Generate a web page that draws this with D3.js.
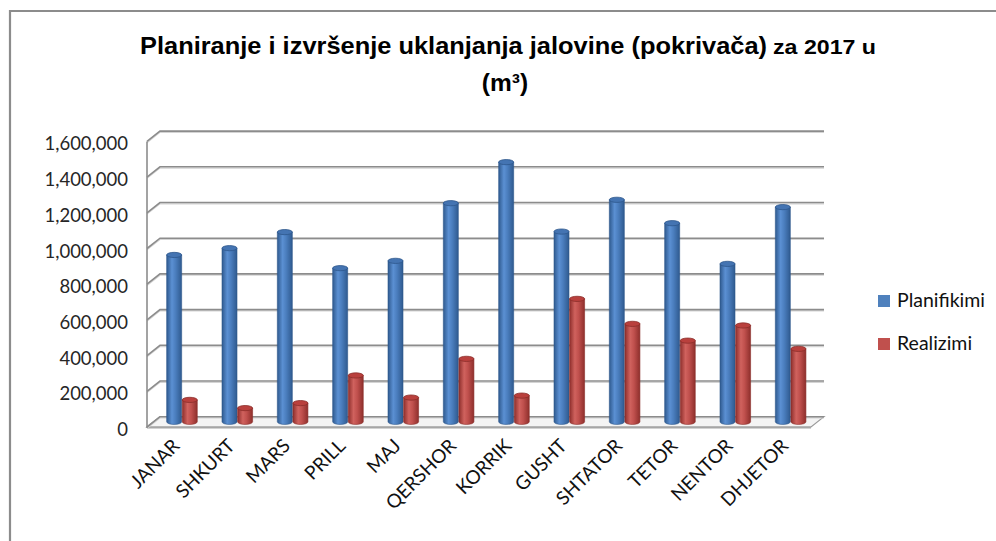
<!DOCTYPE html>
<html>
<head>
<meta charset="utf-8">
<script src="https://cdn.jsdelivr.net/npm/d3@7/dist/d3.min.js"></script>
<style>
  html, body { margin: 0; padding: 0; background: #fff; }
  svg { display: block; }
</style>
</head>
<body>
<svg id="chart" width="996" height="541"></svg>
<script>
const categories = ["JANAR","SHKURT","MARS","PRILL","MAJ","QERSHOR","KORRIK","GUSHT","SHTATOR","TETOR","NENTOR","DHJETOR"];
const planifikimi = [935000, 973000, 1063000, 861000, 902000, 1225000, 1455000, 1066000, 1244000, 1113000, 885000, 1203000];
const realizimi   = [123000, 77000, 105000, 260000, 136000, 353000, 147000, 689000, 549000, 455000, 540000, 409000];
const yTicks = [0, 200000, 400000, 600000, 800000, 1000000, 1200000, 1400000, 1600000];
const seriesNames = ["Planifikimi", "Realizimi"];
const seriesColors = ["#4f81bd", "#c0504d"];

const svg = d3.select("#chart");
const fmt = d3.format(",");

// depth offsets (3D look)
const DX = 13, DY = -10.3;

const y = d3.scaleLinear().domain([0, 1600000]).range([427, 141.4]);
const x = d3.scaleBand().domain(categories).range([147, 811]);

// chart outer border (top and left)
svg.append("line").attr("x1", 10).attr("x2", 996).attr("y1", 11).attr("y2", 11)
  .attr("stroke", "#8c8c8c").attr("stroke-width", 2.2);
svg.append("line").attr("x1", 10).attr("x2", 10).attr("y1", 10).attr("y2", 541)
  .attr("stroke", "#8c8c8c").attr("stroke-width", 2.2);

// defs: gradients for cylinders
const defs = svg.append("defs");
function cylGrad(id, dark, mid, light) {
  const g = defs.append("linearGradient").attr("id", id).attr("x1", "0%").attr("x2", "100%");
  g.append("stop").attr("offset", "0%").attr("stop-color", dark);
  g.append("stop").attr("offset", "35%").attr("stop-color", light);
  g.append("stop").attr("offset", "60%").attr("stop-color", mid);
  g.append("stop").attr("offset", "100%").attr("stop-color", dark);
}
cylGrad("gBlue", "#2f5a8f", "#4a7dbd", "#5b90d3");
cylGrad("gRed", "#8e2f2c", "#c0504d", "#d0625e");

// floor
const x0 = x.range()[0], x1 = x.range()[1];
const floor = svg.append("g");
floor.append("path")
  .attr("d", `M${x0},${y(0)} L${x1},${y(0)} L${x1 + DX},${y(0) + DY} L${x0 + DX},${y(0) + DY} Z`)
  .attr("fill", "#f4f4f4").attr("stroke", "#9a9a9a").attr("stroke-width", 1.2);
floor.append("line").attr("x1", x0).attr("x2", x1).attr("y1", y(0) + 0.5).attr("y2", y(0) + 0.5)
  .attr("stroke", "#a6a6a6").attr("stroke-width", 2);

// gridlines: back wall + left wall diagonals
const grid = svg.append("g");
yTicks.forEach(t => {
  const yf = y(t), yb = y(t) + DY;
  grid.append("path")
    .attr("d", `M${x0},${yf} L${x0 + DX},${yb} L${x1 + DX},${yb}`)
    .attr("fill", "none").attr("stroke", "#d4d4d4").attr("stroke-width", 1.2)
    .attr("transform", "translate(0,1.3)");
  grid.append("path")
    .attr("d", `M${x0},${yf} L${x0 + DX},${yb} L${x1 + DX},${yb}`)
    .attr("fill", "none").attr("stroke", "#8c8c8c").attr("stroke-width", 1.6);
});
// left wall front vertical edge
grid.append("line").attr("x1", x0).attr("x2", x0).attr("y1", y(1600000)).attr("y2", y(0) + 1)
  .attr("stroke", "#8c8c8c").attr("stroke-width", 1.6);

// y labels
svg.append("g").selectAll("text").data(yTicks).join("text")
  .attr("x", 128).attr("y", d => y(d) + 9)
  .attr("text-anchor", "end")
  .attr("font-family", "Lato, 'Open Sans', sans-serif")
  .attr("font-size", 18.5).attr("fill", "#262626")
  .text(d => fmt(d));

// cylinders
const BW = 15, RY = 2.6;
const bars = svg.append("g");
function cylinder(cx, value, grad, topFill, edge) {
  const yb = y(0) + DY / 2, yt = y(value) + DY / 2;
  const g = bars.append("g");
  g.append("path")
    .attr("d", `M${cx - BW / 2},${yt} L${cx - BW / 2},${yb} A${BW / 2},${RY} 0 0 0 ${cx + BW / 2},${yb} L${cx + BW / 2},${yt} Z`)
    .attr("fill", `url(#${grad})`).attr("stroke", edge).attr("stroke-width", 0.6);
  g.append("ellipse").attr("cx", cx).attr("cy", yt).attr("rx", BW / 2).attr("ry", RY)
    .attr("fill", topFill).attr("stroke", edge).attr("stroke-width", 0.8);
}
categories.forEach((c, i) => {
  const cm = x(c) + x.bandwidth() / 2 + DX / 2;
  cylinder(cm - 7, planifikimi[i], "gBlue", "#4474b2", "#2d578c");
  cylinder(cm + 8.6, realizimi[i], "gRed", "#b9403d", "#8a2d2a");
});

// x labels
svg.append("g").selectAll("text").data(categories).join("text")
  .attr("transform", d => `translate(${x(d) + x.bandwidth() / 2 + 6},${447}) rotate(-45)`)
  .attr("text-anchor", "end")
  .attr("font-family", "Lato, 'Open Sans', sans-serif")
  .attr("font-size", 19).attr("fill", "#111")
  .text(d => d);

// legend
const leg = svg.append("g");
seriesNames.forEach((n, i) => {
  const ly = 295 + i * 43;
  leg.append("rect").attr("x", 878).attr("y", ly).attr("width", 12).attr("height", 12)
    .attr("fill", seriesColors[i]);
  leg.append("text").attr("x", 897).attr("y", ly + 12)
    .attr("font-family", "Lato, 'Open Sans', sans-serif")
    .attr("font-size", 19.5).attr("fill", "#111").text(n);
});

// title
const tFont = "'Liberation Sans Narrow', 'Arial Narrow', sans-serif";
svg.append("text")
  .attr("x", 140).attr("y", 54)
  .attr("font-family", tFont).attr("font-weight", "bold").attr("font-size", 24.5).attr("fill", "#000")
  .attr("textLength", 627).attr("lengthAdjust", "spacingAndGlyphs")
  .text("Planiranje i izvršenje uklanjanja jalovine (pokrivača)");
svg.append("text")
  .attr("x", 773).attr("y", 54)
  .attr("font-family", tFont).attr("font-weight", "bold").attr("font-size", 20).attr("fill", "#000")
  .attr("textLength", 103).attr("lengthAdjust", "spacingAndGlyphs")
  .text("za 2017 u");
svg.append("text").attr("x", 505).attr("y", 91).attr("text-anchor", "middle")
  .attr("font-family", tFont).attr("font-weight", "bold").attr("font-size", 24.5).attr("fill", "#000")
  .text("(m³)");
</script>
</body>
</html>
